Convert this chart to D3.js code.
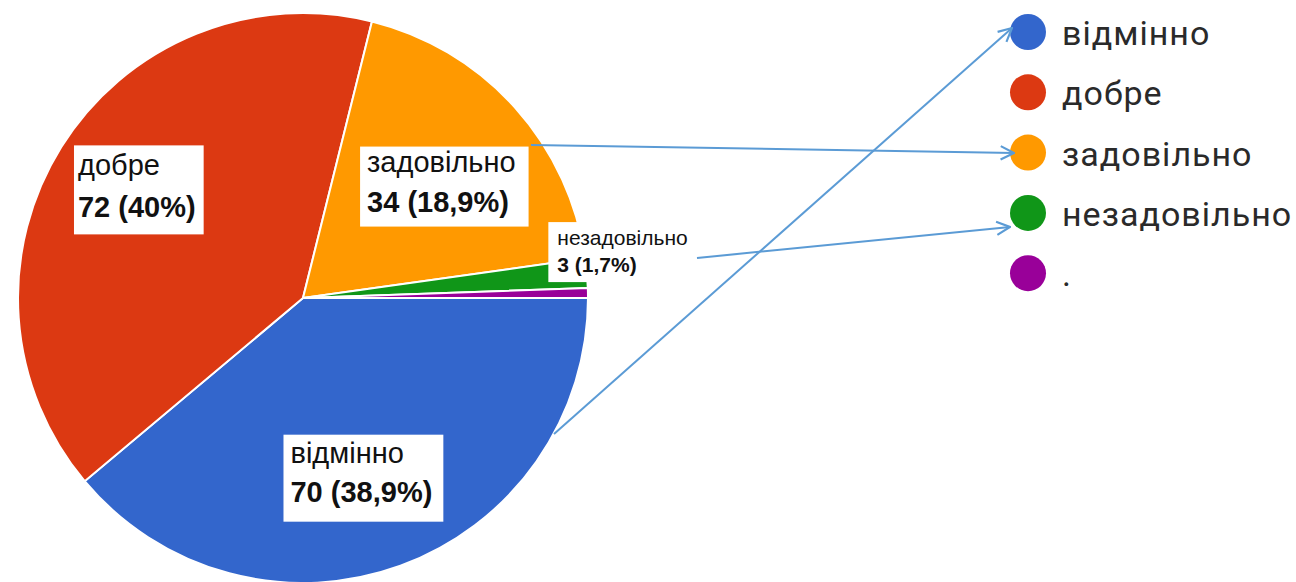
<!DOCTYPE html>
<html>
<head>
<meta charset="utf-8">
<script src="https://cdn.jsdelivr.net/npm/d3@7"></script>
<style>
  html, body { margin: 0; padding: 0; background: #fff; overflow: hidden; }
  svg { display: block; }
</style>
</head>
<body>
<script>
// grades and their counts, in drawing order (clockwise from 3 o'clock)
const categories = ["відмінно", "добре", "задовільно", "незадовільно", "."]
const counts = [70, 72, 34, 3, 1]
const percentLabels = ["38,9%", "40%", "18,9%", "1,7%", "0,6%"]
const colors = ["#3366cc", "#dc3912", "#ff9900", "#109618", "#990099"]

const width = 1296
const height = 582
const cx = 303, cy = 298, radius = 285

const svg = d3.select("body").append("svg")
    .attr("width", width)
    .attr("height", height)

const data = categories.map((c, i) => ({cat: c, value: counts[i], pct: percentLabels[i], color: colors[i]}))

/* pie */
const pie = d3.pie()
    .sort(null)
    .value(d => d.value)
    .startAngle(Math.PI / 2)
    .endAngle(Math.PI / 2 + 2 * Math.PI)

const arc = d3.arc().innerRadius(0).outerRadius(radius)
const labelArc = d3.arc().innerRadius(radius * 0.6).outerRadius(radius * 0.6)

const arcs = pie(data)

const pieG = svg.append("g").attr("transform", `translate(${cx},${cy})`)

pieG.selectAll("path")
    .data(arcs)
    .join("path")
    .attr("d", arc)
    .attr("fill", d => d.data.color)
    .attr("stroke", "#fff")
    .attr("stroke-width", 2)

/* slice labels: white boxes, first baseline offset from the centroid */
const labelLayout = {
    "відмінно":     {dx: -71, dy: 4,   size: 29, gap: 39, padL: 7, padR: 11, top: 28, bottom: 20},
    "добре":        {dx: -80, dy: -32, size: 29, gap: 42, padL: 4, padR: 8,  top: 30, bottom: 17},
    "задовільно":   {dx: -63, dy: -12, size: 29, gap: 40, padL: 7, padR: 13, top: 25, bottom: 15},
    "незадовільно": {dx: 84,  dy: -38, size: 21, gap: 27, padL: 9, padR: 8,  top: 23, bottom: 10}
}

arcs.forEach(a => {
    const lay = labelLayout[a.data.cat]
    if (!lay) return
    const [x, y] = labelArc.centroid(a)
    const g = pieG.append("g")
        .attr("transform", `translate(${x + lay.dx},${y + lay.dy})`)
    const box = g.append("rect").attr("fill", "#fff")
    const t = g.append("text")
        .attr("font-family", "'Liberation Sans', Arial, sans-serif")
        .attr("font-size", lay.size)
        .attr("fill", "#111")
    t.append("tspan").attr("x", 0).attr("y", 0).text(a.data.cat)
    t.append("tspan").attr("x", 0).attr("y", lay.gap)
        .attr("font-weight", "bold")
        .text(`${a.data.value} (${a.data.pct})`)
    const bb = t.node().getBBox()
    box.attr("x", -lay.padL)
        .attr("y", -lay.top)
        .attr("width", bb.width + lay.padL + lay.padR)
        .attr("height", lay.top + lay.gap + lay.bottom)
})

/* legend */
const legendX = 1028, legendY = 32, legendStep = 60.3

const legend = svg.append("g")
const item = legend.selectAll("g")
    .data(data)
    .join("g")
    .attr("transform", (d, i) => `translate(${legendX},${legendY + i * legendStep})`)

item.append("circle")
    .attr("r", 18)
    .attr("fill", d => d.color)

item.append("text")
    .attr("x", 34)
    .attr("y", 13)
    .attr("font-family", "Roboto, sans-serif")
    .attr("font-size", 34)
    .attr("letter-spacing", 1)
    .attr("fill", "#2a2a2a")
    .text(d => d.cat)

/* annotation arrows from slice labels to legend entries */
svg.append("defs").append("marker")
    .attr("id", "arrowhead")
    .attr("viewBox", "0 0 12 12")
    .attr("refX", 11)
    .attr("refY", 6)
    .attr("markerWidth", 16)
    .attr("markerHeight", 16)
    .attr("markerUnits", "userSpaceOnUse")
    .attr("orient", "auto")
    .append("path")
    .attr("d", "M1,1 L11,6 L1,11")
    .attr("fill", "none")
    .attr("stroke", "#5b9bd5")
    .attr("stroke-width", 1.6)

const arrows = [
    {from: [554, 434], to: [1012, 28]},
    {from: [531, 145], to: [1014, 153]},
    {from: [697, 258], to: [1010, 227]}
]

svg.append("g").selectAll("line")
    .data(arrows)
    .join("line")
    .attr("x1", d => d.from[0]).attr("y1", d => d.from[1])
    .attr("x2", d => d.to[0]).attr("y2", d => d.to[1])
    .attr("stroke", "#5b9bd5")
    .attr("stroke-width", 2)
    .attr("marker-end", "url(#arrowhead)")
</script>
</body>
</html>
